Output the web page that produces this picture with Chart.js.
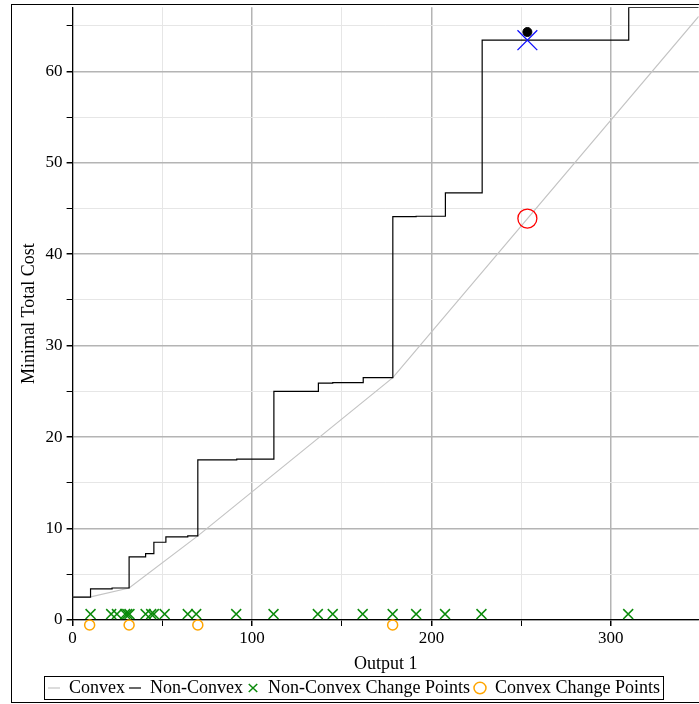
<!DOCTYPE html>
<html>
<head>
<meta charset="utf-8">
<script src="https://cdn.jsdelivr.net/npm/chart.js@4.4.1/dist/chart.umd.min.js"></script>
<style>
    html, body { margin: 0; padding: 0; background: #fff; overflow: hidden; }
    #wrap { width: 699px; height: 704px; overflow: hidden; position: relative; }
    /* canvas a bit bigger than the window so the plot area runs up to the right/top edges */
    #costChart { position: absolute; left: -6px; top: -8px; }
</style>
</head>
<body>
<div id="wrap"><canvas id="costChart" width="720" height="712"></canvas></div>
<script>
/*************** DATA ***************/
// non-convex step function: value starts at stepX[i] and holds until next
const stepX = [0, 10, 22, 31.5, 40.7, 45.3, 52, 64.2, 69.8, 91.5, 112.2, 137, 145, 162, 178.5, 191.5, 207.8, 228.3, 310, 349];
const stepY = [2.5, 3.4, 3.5, 6.9, 7.25, 8.5, 9.1, 9.2, 17.5, 17.6, 25.0, 25.9, 25.95, 26.5, 44.1, 44.15, 46.7, 63.4, 67.0, 67.0];

// convex hull
const convexX = [0, 9.5, 31.5, 69.8, 178.5, 349];
const convexY = [2.5, 2.5, 3.5, 9.2, 26.5, 66.0];

// change points
const nonConvexChangeX = [10, 21.5, 24.7, 29.3, 30.5, 31.7, 40.7, 43.8, 45.3, 51.3, 64.2, 68.9, 91.2, 112, 136.7, 145, 161.7, 178.4, 191.5, 207.6, 227.9, 309.7];
const nonConvexChangeY = 0.65;
const convexChangeX = [9.5, 31.5, 69.8, 178.4];
const convexChangeY = -0.55;

// highlighted point
const markX = 253.5;
const markStep = 63.4;
const markDot = 64.3;
const markConvex = 43.9;

// axes
const xMax = 349;
const yMax = 67;
const xTicks = [0, 50, 100, 150, 200, 250, 300];   // labels only on multiples of 100
const yTicks = [0, 5, 10, 15, 20, 25, 30, 35, 40, 45, 50, 55, 60, 65];  // labels on multiples of 10

/*************** HELPERS ***************/
const fontFamily = "'Liberation Serif', 'DejaVu Serif', serif";
const majorGrid = '#b4b4b4';
const minorGrid = '#e6e6e6';
const shiftX = 6;   // canvas is moved left by this much
const shiftY = 8;   // canvas is moved up by this much

function toPoints(xs, ys) {
    return xs.map((x, i) => ({ x: x, y: Array.isArray(ys) ? ys[i] : ys }));
}

function isMajor(c, step) {
    return c.tick && c.tick.value % step === 0;
}

// outer frame + legend box
const framePlugin = {
    id: 'frame',
    afterDraw(chart) {
        const ctx = chart.ctx;
        ctx.save();
        ctx.strokeStyle = '#000';
        ctx.lineWidth = 1;
        ctx.strokeRect(11.5 + shiftX, 4.5 + shiftY, 740, 698);
        const boxes = chart.legend.legendHitBoxes;
        if (boxes && boxes.length) {
            let l = Infinity, r = -Infinity, t = Infinity, b = -Infinity;
            boxes.forEach(h => {
                l = Math.min(l, h.left); r = Math.max(r, h.left + h.width);
                t = Math.min(t, h.top); b = Math.max(b, h.top + h.height);
            });
            ctx.strokeRect(Math.round(l - 4) + 0.5, Math.round(t - 3) + 0.5, Math.round(r - l + 7), Math.round(b - t + 5));
        }
        ctx.restore();
    }
};

/*************** CHART ***************/
const data = {
    datasets: [{
        type: 'line',
        label: 'Convex',
        data: toPoints(convexX, convexY),
        borderColor: '#c4c4c4',
        borderWidth: 1.2,
        pointRadius: 0,
        pointStyle: 'line',
        order: 3
    }, {
        type: 'line',
        label: 'Non-Convex',
        data: toPoints(stepX, stepY),
        stepped: 'before',
        borderColor: '#000',
        borderWidth: 1.2,
        pointRadius: 0,
        pointStyle: 'line',
        order: 2
    }, {
        type: 'scatter',
        label: 'Non-Convex Change Points',
        data: toPoints(nonConvexChangeX, nonConvexChangeY),
        pointStyle: 'crossRot',
        pointRadius: 7,
        borderColor: '#0a8a0a',
        backgroundColor: '#0a8a0a',
        pointBorderWidth: 1.5,
        borderWidth: 1.5,
        clip: false,
        order: 1
    }, {
        type: 'scatter',
        label: 'Convex Change Points',
        data: toPoints(convexChangeX, convexChangeY),
        pointStyle: 'circle',
        pointRadius: 5,
        borderColor: '#ffa500',
        backgroundColor: 'rgba(0,0,0,0)',
        pointBorderWidth: 1.5,
        borderWidth: 1.5,
        clip: false,
        order: 1
    }, {
        type: 'scatter',
        label: 'mark-step',
        data: [{ x: markX, y: markStep }],
        pointStyle: 'crossRot',
        pointRadius: 14,
        borderColor: '#1010ff',
        pointBorderWidth: 1.3,
        order: 0
    }, {
        type: 'scatter',
        label: 'mark-dot',
        data: [{ x: markX, y: markDot }],
        pointStyle: 'circle',
        pointRadius: 4.5,
        borderColor: '#000',
        backgroundColor: '#000',
        order: 0
    }, {
        type: 'scatter',
        label: 'mark-convex',
        data: [{ x: markX, y: markConvex }],
        pointStyle: 'circle',
        pointRadius: 9.5,
        borderColor: '#ff0000',
        backgroundColor: 'rgba(0,0,0,0)',
        pointBorderWidth: 1.3,
        order: 0
    }]
};

const options = {
    responsive: false,
    animation: false,
    layout: { padding: { left: 0, right: 0, top: 0, bottom: -3 } },
    plugins: {
        tooltip: { enabled: false },
        legend: {
            position: 'bottom',
            labels: {
                usePointStyle: true,
                boxHeight: 8,
                pointStyleWidth: 12,
                padding: 4,
                color: '#000',
                font: { family: fontFamily, size: 18 },
                filter: item => !item.text.startsWith('mark-'),
                sort: (a, b) => a.datasetIndex - b.datasetIndex
            }
        }
    },
    scales: {
        x: {
            type: 'linear',
            min: 0,
            max: xMax,
            afterBuildTicks: s => { s.ticks = xTicks.map(v => ({ value: v })); },
            ticks: {
                autoSkip: false,
                maxRotation: 0,
                color: '#000',
                padding: 2,
                font: { family: fontFamily, size: 17 },
                callback: v => (v % 100 === 0 ? v : '')
            },
            grid: {
                color: c => (isMajor(c, 100) ? majorGrid : minorGrid),
                lineWidth: c => (isMajor(c, 100) ? 1.5 : 1),
                tickColor: '#000',
                tickLength: 6
            },
            border: { color: '#000', width: 1.2 },
            title: {
                display: true,
                text: 'Output 1',
                color: '#000',
                padding: { top: 3, bottom: 0 },
                font: { family: fontFamily, size: 18 }
            }
        },
        y: {
            type: 'linear',
            min: 0,
            max: yMax,
            afterBuildTicks: s => { s.ticks = yTicks.map(v => ({ value: v })); },
            ticks: {
                autoSkip: false,
                color: '#000',
                padding: 4,
                font: { family: fontFamily, size: 17 },
                callback: v => (v % 10 === 0 ? v : '')
            },
            grid: {
                color: c => (isMajor(c, 10) ? majorGrid : minorGrid),
                lineWidth: c => (isMajor(c, 10) ? 1.5 : 1),
                tickColor: '#000',
                tickLength: 6
            },
            border: { color: '#000', width: 1.2 },
            title: {
                display: true,
                text: 'Minimal Total Cost',
                color: '#000',
                padding: { top: 24, bottom: 2 },
                font: { family: fontFamily, size: 18 }
            }
        }
    }
};

const ctx = document.getElementById('costChart').getContext('2d');
const costChart = new Chart(ctx, {
    data: data,
    options: options,
    plugins: [framePlugin]
});
</script>
</body>
</html>
